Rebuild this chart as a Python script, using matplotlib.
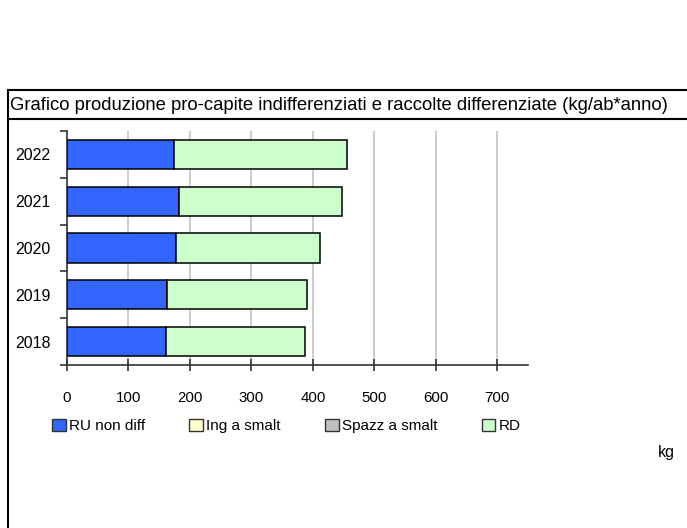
import matplotlib
matplotlib.use("Agg")
import matplotlib.pyplot as plt
from matplotlib.patches import Patch
from matplotlib.lines import Line2D

# data
years = ["2018", "2019", "2020", "2021", "2022"]
ru_non_diff = [161, 163, 177, 182, 174]
ing_a_smalt = [0, 0, 0, 0, 0]
spazz_a_smalt = [0, 0, 0, 0, 0]
rd = [227, 227, 234, 265, 281]
series_names = ["RU non diff", "Ing a smalt", "Spazz a smalt", "RD"]
colors = ["#3366FF", "#FFFFCC", "#C0C0C0", "#CCFFCC"]
x_ticks = [0, 100, 200, 300, 400, 500, 600, 700]

plt.rcParams["font.family"] = ["Liberation Sans", "DejaVu Sans"]

W, H = 687, 528
fig = plt.figure(figsize=(W / 100, H / 100), dpi=100)

def fx(px):
    return px / W

def fy(py):
    return 1 - py / H

# frame around the chart
fig.add_artist(Line2D([fx(7.5), fx(7.5)], [fy(90), fy(528)], color="black", lw=1.5))
fig.add_artist(Line2D([fx(7.5), 1], [fy(90), fy(90)], color="black", lw=1.5))
fig.add_artist(Line2D([fx(7.5), 1], [fy(119), fy(119)], color="black", lw=1.5))
fig.text(fx(10), fy(105), "Grafico produzione pro-capite indifferenziati e raccolte differenziate (kg/ab*anno)",
         fontsize=13.3, va="center", ha="left")

ax = fig.add_axes([fx(67), fy(365), fx(528 - 67), (365 - 131) / H])

y = list(range(len(years)))
left = [0] * len(years)
for vals, c in zip([ru_non_diff, ing_a_smalt, spazz_a_smalt, rd], colors):
    ax.barh(y, vals, left=left, height=0.62, color=c, edgecolor="black", linewidth=1.1, zorder=3)
    left = [a + b for a, b in zip(left, vals)]

ax.set_xlim(0, 750)
ax.set_ylim(-0.5, 4.5)
ax.set_xticks(x_ticks)
ax.set_xticklabels([str(t) for t in x_ticks], fontsize=10.8)
ax.set_yticks(y)
ax.set_yticklabels(years, fontsize=11.5)
ax.set_yticks([i - 0.5 for i in range(len(years) + 1)], minor=True)
ax.tick_params(axis="y", which="major", length=0, pad=12)
ax.tick_params(axis="y", which="minor", length=5, width=1.2, color="#333333")
ax.tick_params(axis="x", direction="inout", length=8, width=1.2, color="#333333", pad=14.5)
for t in x_ticks[1:]:
    ax.axvline(t, color="#c8c8c8", lw=1.3, zorder=1)
for s in ["top", "right"]:
    ax.spines[s].set_visible(False)
for s in ["left", "bottom"]:
    ax.spines[s].set_color("#333333")
    ax.spines[s].set_linewidth(1.2)

handles = [Patch(facecolor=c, edgecolor="#333333", linewidth=1.0) for c in colors]
fig.legend(handles, series_names, ncol=4, loc="center left",
           bbox_to_anchor=(fx(52), fy(426)), frameon=False, fontsize=11,
           handlelength=0.9, handleheight=0.9, handletextpad=0.2,
           columnspacing=2.9, borderaxespad=0, borderpad=0)

fig.text(fx(666), fy(452), "kg", fontsize=11.5, ha="center", va="center")

fig.savefig("out.png", dpi=100)
